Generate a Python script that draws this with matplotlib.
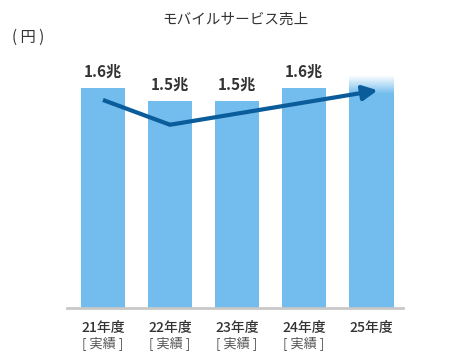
import numpy as np
import matplotlib.pyplot as plt
from matplotlib.colors import LinearSegmentedColormap

plt.rcParams['font.family'] = ['Noto Sans CJK JP', 'DejaVu Sans']

years = ['21年度', '22年度', '23年度', '24年度', '25年度']
notes = ['[ 実績 ]', '[ 実績 ]', '[ 実績 ]', '[ 実績 ]', '']
sales = [1.6, 1.5, 1.5, 1.6, 1.69]
labels = ['1.6兆', '1.5兆', '1.5兆', '1.6兆', '']
trend_x = [0, 1, 4.1]
trend_y = [1.51, 1.33, 1.58]

bar_color = '#72bdee'
arrow_color = '#0b5c9a'
text_color = '#333333'

fig = plt.figure(figsize=(4.7, 3.6), dpi=100)
ax = fig.add_axes([67 / 470, 52 / 360, 336 / 470, 248 / 360])

x = np.arange(len(years))
ax.bar(x[:4], sales[:4], width=0.66, color=bar_color, zorder=2)

# last bar: fades out to white at the top
last = ax.bar(x[4], sales[4], width=0.66, color='none', zorder=2)[0]
cmap = LinearSegmentedColormap.from_list('fade', ['white', bar_color])
grad = np.clip(np.linspace(0, 1, 300) / 0.08, 0, 1).reshape(-1, 1)
im = ax.imshow(grad, cmap=cmap, aspect='auto', zorder=2,
               extent=[x[4] - 0.33, x[4] + 0.33, 0, sales[4]], vmin=0, vmax=1)
im.set_clip_path(last)
ax.set_xlim(-0.537, 4.478)
ax.set_ylim(0, 1.8)

for xi, v, lab in zip(x, sales, labels):
    if lab:
        ax.annotate(lab, (xi, v), xytext=(0, 6), textcoords='offset points',
                    ha='center', va='bottom', fontsize=11, fontweight='bold',
                    color=text_color)

# trend arrow
ax.plot(trend_x[:2], trend_y[:2], color=arrow_color, lw=3, solid_capstyle='butt',
        zorder=3)
ax.annotate('', xy=(trend_x[2], trend_y[2]), xytext=(trend_x[1], trend_y[1]),
            arrowprops=dict(arrowstyle='-|>', color=arrow_color, lw=3,
                            mutation_scale=22, shrinkA=0, shrinkB=0),
            zorder=3)

tr = ax.get_xaxis_transform()
for xi, yr, nt in zip(x, years, notes):
    ax.text(xi, -0.08, yr, transform=tr, ha='center', va='center',
            fontsize=10, fontweight='medium', color=text_color)
    if nt:
        ax.text(xi, -0.14, nt, transform=tr, ha='center', va='center',
                fontsize=9.5, color='#555555')

for s in ['top', 'right', 'left']:
    ax.spines[s].set_visible(False)
ax.spines['bottom'].set_color('#c8c8c8')
ax.spines['bottom'].set_linewidth(2)
ax.set_xticks([])
ax.set_yticks([])

fig.text(235 / 470, 1 - 20 / 360, 'モバイルサービス売上', ha='center', va='center',
         fontsize=10.5, color=text_color)
fig.text(12 / 470, 1 - 37 / 360, '( 円 )', ha='left', va='center',
         fontsize=11, color=text_color)

fig.savefig('out.png', dpi=100)
